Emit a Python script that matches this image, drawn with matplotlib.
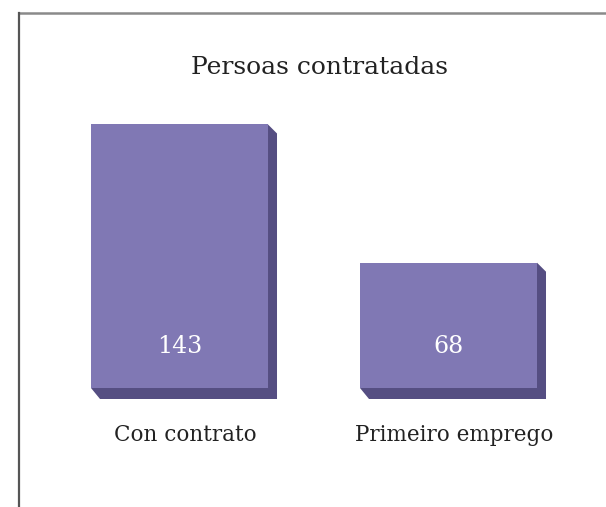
import matplotlib
matplotlib.use("Agg")
import matplotlib.pyplot as plt
from matplotlib.patches import Polygon
from matplotlib.lines import Line2D
from matplotlib.transforms import offset_copy

categories = ["Con contrato", "Primeiro emprego"]
values = [143, 68]
title = "Persoas contratadas"

front_color = "#8078b4"
side_color = "#554e82"
depth = 9  # pixels

W, H = 606, 507
fig = plt.figure(figsize=(W / 100, H / 100), dpi=100)
fig.patch.set_facecolor("white")

# axes spans from the frame line down to the bar baseline
left_px, right_px, top_px, base_px = 19, 606, 13, 388
ax = fig.add_axes([left_px / W, (H - base_px) / H,
                   (right_px - left_px) / W, (base_px - top_px) / H])
ax.set_xlim(-0.5967, 1.5855)
ax.set_ylim(0, 203.5)
ax.axis("off")

pos = list(range(len(categories)))
width = 0.658
bars = ax.bar(pos, values, width=width, color=front_color, zorder=3)

# 3D side/bottom faces computed from the bar geometry in display space
for b in bars:
    x0, y0 = ax.transData.transform((b.get_x(), 0))
    x1, y1 = ax.transData.transform((b.get_x() + b.get_width(), b.get_height()))
    pts = [(x1, y1), (x1 + depth, y1 - depth), (x1 + depth, y0 - depth - 2),
           (x0 + depth, y0 - depth - 2), (x0, y0), (x1, y0)]
    fig.add_artist(Polygon(pts, closed=True, transform=None,
                           facecolor=side_color, edgecolor="none", zorder=2))

label_tr = offset_copy(ax.transData, fig=fig, x=6, y=0, units="dots")
for p, v, cat in zip(pos, values, categories):
    ax.text(p, 19, str(v), ha="center", va="baseline", color="white",
            fontsize=17, family="DejaVu Serif", zorder=4)
    ax.text(p, -28.5, cat, ha="center", va="baseline", transform=label_tr,
            color="#222222", fontsize=15.5, family="DejaVu Serif",
            clip_on=False)

fig.text(320 / W, 1 - 74 / H, title, ha="center", va="baseline",
         fontsize=18, family="DejaVu Serif", color="#222222")

# frame: top and left lines
fig.add_artist(Line2D([left_px / W, 1], [1 - top_px / H, 1 - top_px / H],
                      color="#8a8a8a", lw=1.8, transform=fig.transFigure))
fig.add_artist(Line2D([left_px / W, left_px / W], [0, 1 - top_px / H],
                      color="#555555", lw=1.6, transform=fig.transFigure))

fig.savefig("out.png", dpi=100)
